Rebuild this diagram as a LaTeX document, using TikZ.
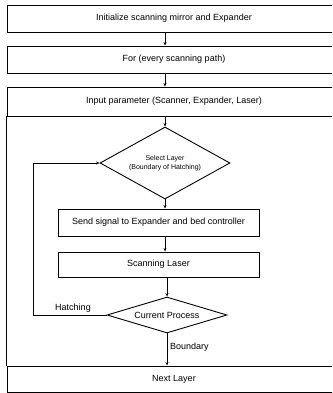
\documentclass[tikz,border=0pt]{standalone}
\usepackage{fontspec}
\setmainfont{Liberation Sans}
\usetikzlibrary{shapes.geometric,arrows.meta}
\begin{document}
\begin{tikzpicture}[x=1pt,y=-1pt,
  box/.style={draw,line width=0.9pt,rectangle,inner sep=0pt,font=\fontsize{9}{10}\selectfont},
  dia/.style={draw,line width=0.9pt,diamond,inner sep=0pt,align=center},
  conn/.style={line width=0.8pt,-{Stealth[length=3.5pt,width=3pt]}},
  lbl/.style={inner sep=0pt,font=\fontsize{9}{10}\selectfont}]
\useasboundingbox (0,0) rectangle (332,393);
\clip (0,0) rectangle (332,393);
\node[box,minimum width=334pt,minimum height=27pt] (b1) at (174,18.5) {Initialize scanning mirror and Expander};
\node[box,minimum width=334pt,minimum height=27pt] (b2) at (174,59.5) {For (every scanning path)};
\node[box,minimum width=334pt,minimum height=29pt] (b3) at (174,101.5) {Input parameter (Scanner, Expander, Laser)};
\node[box,minimum width=334pt,minimum height=26pt] (nl) at (174,379) {Next Layer};
\draw[line width=0.9pt] (b3.south west) -- (nl.north west);
\node[dia,minimum width=130pt,minimum height=72pt,shape aspect=1.8,font=\fontsize{7}{9}\selectfont] (d1) at (165,163) {Select Layer\\(Boundary of Hatching)};
\node[box,minimum width=201pt,minimum height=27pt] (sd) at (158.5,222.5) {Send signal to Expander and bed controller};
\node[box,minimum width=201pt,minimum height=25pt] (sc) at (158.5,264.5) {Scanning Laser};
\node[dia,minimum width=120pt,minimum height=36pt,shape aspect=3.33,font=\fontsize{9}{10}\selectfont] (d2) at (167,315) {Current Process};
\coordinate (lb) at (33,315);
\coordinate (lt) at (33,163);
\draw[conn] (b1.south -| 165,0) -- (b2.north -| 165,0);
\draw[conn] (b2.south -| 165,0) -- (b3.north -| 165,0);
\draw[conn] (b3.south -| d1.north) -- (d1.north);
\draw[conn] (d1.south) -- (sd.north -| d1.south);
\draw[conn] (sd.south -| d1.south) -- (sc.north -| d1.south);
\draw[conn] (sc.south -| d2.north) -- (d2.north);
\draw[conn] (d2.south) -- (nl.north -| d2.south);
\draw[conn] (d2.west) -- (lb) -- (lt) -- (d1.west);
\node[lbl] (hl) at (73,308) {Hatching};
\node[lbl,anchor=west] (bl) at (170,347) {Boundary};
\end{tikzpicture}
\end{document}
